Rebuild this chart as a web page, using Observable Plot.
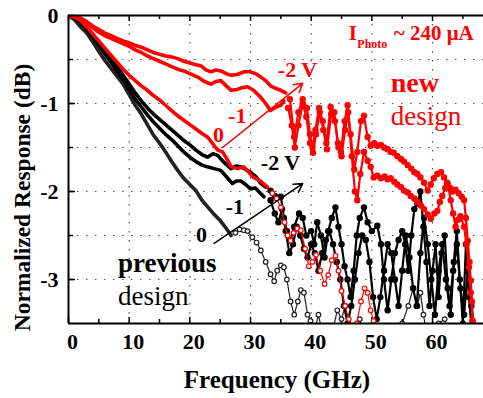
<!DOCTYPE html>
<html><head><meta charset="utf-8">
<script src="https://cdn.jsdelivr.net/npm/d3@7"></script>
<script src="https://cdn.jsdelivr.net/npm/@observablehq/plot@0.6"></script>
<style>
body{margin:0;background:#fff}
#chart{width:483px;height:398px;overflow:hidden}
#chart svg, #chart svg text, #chart svg g{font-family:"Liberation Serif","DejaVu Serif",serif !important}
</style>
</head><body><div id="chart"></div>
<script>
// ---- data (frequency GHz, normalized response dB) ----
const xTicks = [0, 10, 20, 30, 40, 50, 60];
const yTicks = [0, -1, -2, -3];
const xTitle = "Frequency (GHz)";
const yTitle = "Normalized Response (dB)";

const new_m2V = [[0,0],[1,-0.01],[2,-0.03],[3,-0.07],[4,-0.12],[5,-0.16],[6,-0.2],[7,-0.23],[8,-0.26],[9,-0.29],[10,-0.31],[11,-0.34],[12,-0.36],[13,-0.39],[14,-0.42],[15,-0.44],[16,-0.46],[17,-0.47],[18,-0.49],[19,-0.52],[20,-0.54],[21,-0.56],[21.8,-0.57],[22.7,-0.62],[23.5,-0.64],[24.3,-0.62],[25.1,-0.63],[26,-0.66],[26.8,-0.68],[27.8,-0.67],[28.9,-0.64],[30,-0.64],[30.8,-0.66],[31.7,-0.70],[32.5,-0.74],[33.3,-0.80],[34.2,-0.83],[35,-0.85],[35.8,-0.88],[36.5,-0.95],[37.2,-1.38],[37.9,-1.10],[38.6,-0.95],[39.3,-1.05],[39.8,-1.35],[40.2,-1.50],[40.7,-1.30],[41.3,-1.05],[41.9,-1.20],[42.5,-1.45],[43.2,-1.04],[43.8,-1.10],[44.4,-1.45],[44.9,-1.55],[45.5,-1.20],[46,-1.02],[46.5,-1.35],[47.1,-1.75],[47.6,-1.55],[48.2,-1.20],[48.7,-1.14],[49.3,-1.38],[49.8,-1.48],[50.4,-1.45],[50.9,-1.48],[51.5,-1.47],[52,-1.50],[52.6,-1.52],[53.1,-1.55],[53.6,-1.56],[54.2,-1.60],[54.8,-1.63],[55.3,-1.66],[55.9,-1.70],[56.5,-1.74],[57,-1.78],[57.5,-1.80],[58,-1.84],[58.6,-1.90],[59.2,-1.99],[59.7,-1.92],[60.2,-1.85],[60.8,-1.80],[61.4,-1.78],[61.9,-1.84],[62.4,-1.90],[62.9,-1.96],[63.3,-2.00],[63.8,-1.98],[64.3,-2.02],[64.8,-2.06],[65.2,-2.10],[65.5,-2.30],[65.8,-2.56],[66.1,-2.80],[66.3,-3.01],[66.5,-3.25],[66.6,-3.47],[66.8,-3.7]];

const new_m1V = [[0,0],[1,-0.01],[2,-0.04],[3,-0.09],[4,-0.14],[5,-0.19],[6,-0.23],[7,-0.26],[8,-0.29],[9,-0.32],[10,-0.35],[11,-0.39],[12,-0.42],[13,-0.46],[14,-0.49],[15,-0.52],[16,-0.55],[17,-0.58],[18,-0.61],[19,-0.63],[20,-0.66],[21.3,-0.70],[22.4,-0.75],[23.5,-0.78],[24.3,-0.75],[25.1,-0.74],[26,-0.80],[26.8,-0.85],[27.8,-0.84],[28.6,-0.82],[29.5,-0.81],[30.5,-0.85],[31.7,-0.93],[32.5,-1.00],[33.3,-1.08],[34.2,-1.04],[35,-1.02],[35.5,-0.97],[36.2,-1.05],[36.8,-1.25],[37.3,-1.50],[37.9,-1.25],[38.6,-1.00],[39.2,-1.15],[39.8,-1.45],[40.3,-1.56],[40.8,-1.35],[41.4,-1.10],[42,-1.30],[42.6,-1.52],[43.3,-1.12],[43.9,-1.20],[44.5,-1.50],[45,-1.60],[45.6,-1.30],[46.1,-1.10],[46.7,-1.60],[47.2,-2.00],[47.6,-2.10],[48.1,-1.80],[48.7,-1.55],[49.3,-1.65],[49.8,-1.72],[50.3,-1.84],[50.9,-1.82],[51.5,-1.85],[52.1,-1.83],[52.6,-1.86],[53.1,-1.85],[53.7,-1.89],[54.2,-1.92],[54.8,-1.95],[55.3,-1.99],[55.9,-2.01],[56.4,-2.05],[57,-2.08],[57.5,-2.12],[58.1,-2.16],[58.6,-2.20],[59.2,-2.26],[59.7,-2.31],[60.3,-2.25],[60.8,-2.22],[61.2,-2.12],[61.6,-2.05],[62.1,-1.96],[62.5,-1.91],[63,-2.10],[63.4,-2.25],[63.8,-2.40],[64.2,-2.32],[64.6,-2.28],[65.2,-2.40],[65.6,-2.60],[66,-2.86],[66.3,-3.15],[66.6,-3.47],[66.9,-3.7]];

const new_0V = [[0,0],[1,-0.02],[2,-0.06],[3,-0.13],[4,-0.21],[5,-0.29],[6,-0.37],[7,-0.45],[8,-0.53],[9,-0.61],[10,-0.68],[11,-0.74],[12,-0.80],[13,-0.85],[14,-0.91],[15,-0.96],[16,-1.02],[17,-1.08],[18,-1.14],[19,-1.19],[20,-1.24],[21,-1.29],[22,-1.34],[22.9,-1.38],[23.8,-1.46],[24.6,-1.53],[25.4,-1.55],[26.1,-1.63],[26.8,-1.72],[27.9,-1.74],[28.9,-1.72],[29.7,-1.78],[30.5,-1.84],[31.6,-1.88],[32.8,-1.95],[33.6,-2.02],[34.3,-2.08],[35,-2.18],[35.6,-2.35],[36.1,-2.50],[36.6,-2.56],[37.1,-2.47],[37.7,-2.42],[38.3,-2.44],[39,-2.65],[39.6,-2.85],[40.2,-2.80],[40.8,-2.72],[41.5,-2.90],[42.2,-3.05],[42.8,-2.95],[43.4,-2.78],[44,-2.73],[44.5,-2.90],[45,-3.13],[45.6,-3.30],[46.2,-3.45],[46.8,-3.55],[47.5,-3.50],[48.2,-3.25],[48.8,-3.10],[49.3,-3.15],[49.8,-3.35],[50.3,-3.47],[50.8,-3.7]];

const prev_m2V = [[0,0],[1,-0.02],[2,-0.07],[3,-0.14],[4,-0.22],[5,-0.31],[6,-0.40],[7,-0.49],[8,-0.58],[9,-0.68],[10,-0.78],[11,-0.88],[12,-0.97],[13,-1.05],[14,-1.12],[15,-1.18],[16,-1.24],[17,-1.30],[18,-1.36],[19,-1.42],[20,-1.47],[21,-1.53],[22,-1.58],[22.9,-1.61],[23.8,-1.57],[24.6,-1.59],[25.5,-1.66],[26.8,-1.74],[27.6,-1.71],[28.4,-1.72],[29.2,-1.75],[30,-1.78],[31,-1.84],[31.7,-1.91],[32.5,-1.95],[33.3,-1.99],[34,-2.05],[35,-2.06],[35.5,-2.30],[36,-2.45],[36.6,-2.56],[37.2,-2.40],[38,-2.25],[38.6,-2.30],[39.2,-2.50],[40,-2.45],[40.5,-2.60],[41,-2.35],[41.6,-2.50],[42.2,-2.75],[42.8,-2.45],[43.4,-2.30],[44,-2.18],[44.5,-2.40],[45,-2.60],[45.5,-2.85],[46,-3.00],[46.5,-3.20],[47,-2.90],[47.5,-2.50],[48,-2.30],[48.7,-2.18],[49.3,-2.35],[50,-2.45],[50.9,-2.39],[51.5,-2.60],[52,-3.00],[52.6,-3.35],[53.2,-3.00],[53.8,-2.70],[54.4,-2.55],[55,-2.45],[55.5,-2.60],[56,-2.90],[56.5,-2.50],[57,-2.20],[57.5,-2.14],[58,-2.00],[58.5,-2.40],[59,-2.80],[59.5,-3.30],[60,-2.90],[60.5,-2.60],[61,-3.20],[61.5,-2.70],[62,-2.50],[62.5,-3.10],[63,-3.40],[63.5,-2.80],[64,-2.45],[64.5,-3.00],[65,-3.50],[65.5,-2.60],[66,-3.20],[66.5,-3.60]];

const prev_m1V = [[0,0],[1,-0.03],[2,-0.08],[3,-0.16],[4,-0.25],[5,-0.34],[6,-0.44],[7,-0.53],[8,-0.63],[9,-0.73],[10,-0.84],[11,-0.95],[12,-1.04],[13,-1.13],[14,-1.21],[15,-1.28],[16,-1.35],[17,-1.41],[18,-1.48],[19,-1.55],[20,-1.61],[21,-1.66],[22,-1.70],[22.9,-1.72],[24,-1.74],[25.1,-1.76],[26,-1.83],[27,-1.91],[27.7,-1.88],[28.4,-1.88],[29.2,-1.92],[30,-1.97],[30.8,-1.96],[31.5,-2.01],[32.2,-2.06],[33.3,-2.10],[34,-2.25],[34.6,-2.35],[35.2,-2.20],[35.8,-2.45],[36.4,-2.70],[37,-2.60],[37.6,-2.40],[38.2,-2.50],[38.8,-2.65],[39.4,-2.75],[40,-2.60],[40.6,-2.70],[41.2,-2.90],[41.8,-2.70],[42.4,-2.55],[43,-2.45],[43.6,-2.60],[44.2,-2.80],[44.8,-3.00],[45.4,-3.30],[46,-3.50],[46.6,-3.30],[47.2,-3.00],[47.8,-2.70],[48.4,-2.50],[49,-2.55],[49.6,-2.80],[50.2,-3.20],[50.8,-3.45],[51.4,-3.20],[52,-2.90],[52.6,-2.60],[53.2,-2.70],[53.8,-3.00],[54.4,-3.30],[55,-2.90],[55.6,-2.50],[56.2,-2.75],[56.8,-3.10],[57.4,-3.30],[58,-2.70],[58.6,-2.30],[59.2,-2.60],[59.8,-3.00],[60.4,-3.40],[61,-2.90],[61.6,-2.60],[62.2,-3.00],[62.8,-3.30],[63.4,-2.90],[64,-2.60],[64.6,-3.10],[65.2,-3.40],[65.8,-2.90],[66.4,-3.30],[67,-3.60]];

const prev_0V = [[0,0],[1,-0.05],[2,-0.13],[3,-0.20],[4,-0.30],[5,-0.41],[6,-0.51],[7,-0.60],[8,-0.69],[9,-0.78],[10,-0.90],[11,-1.02],[12,-1.12],[13,-1.24],[14,-1.36],[15,-1.45],[16,-1.55],[17,-1.66],[18,-1.76],[19,-1.85],[20,-1.92],[21,-1.99],[22,-2.10],[23,-2.18],[24,-2.26],[25,-2.33],[26,-2.42],[26.8,-2.50],[27.5,-2.47],[28.2,-2.43],[28.9,-2.44],[29.5,-2.45],[30.3,-2.52],[31,-2.58],[31.7,-2.67],[32.5,-2.80],[33.3,-2.94],[33.9,-3.02],[34.4,-2.90],[35,-2.84],[35.5,-2.86],[36,-3.00],[36.6,-3.25],[37.2,-3.40],[37.8,-3.25],[38.3,-3.12],[38.8,-3.15],[39.4,-3.40],[39.9,-3.47],[40.5,-3.60],[41.2,-3.40],[41.8,-3.60],[42.5,-3.70],[43.5,-3.60],[44.3,-3.35],[45,-3.45],[45.6,-3.30],[46.2,-3.60],[47,-3.70],[48,-3.45],[48.6,-3.60],[50,-3.70],[52,-3.80],[54,-3.60],[55,-3.50],[56,-3.30],[56.8,-3.10],[57.5,-3.30],[58,-3.15],[58.5,-3.40],[59,-3.60],[60,-3.70],[61,-3.50],[62,-3.45],[63,-3.70],[64,-3.60]];

// ---- annotations ----
const redLabels = [
  {text: "-2 V", f: 34.5, db: -0.62},
  {text: "-1", f: 26.3, db: -1.14},
  {text: "0", f: 23.8, db: -1.36}
];
const blackLabels = [
  {text: "-2 V", f: 31.7, db: -1.68},
  {text: "-1", f: 25.9, db: -2.18},
  {text: "0", f: 21.0, db: -2.49}
];
const arrows = [
  {f1: 25.4, db1: -1.50, f2: 38.6, db2: -0.77, color: "#ff0000"},
  {f1: 24.0, db1: -2.59, f2: 38.6, db2: -1.91, color: "#000"}
];

const RED = "#ff0000";
const FONT = "Liberation Serif, DejaVu Serif, serif";
const toRows = arr => arr.map(([f, db]) => ({f, db}));

function seriesMarks(arr, color, t, openDots) {
  const rows = toRows(arr);
  const thick = rows.filter(d => d.f <= t);
  const thin = rows.filter(d => d.f >= t);
  return [
    Plot.line(thick, {x: "f", y: "db", stroke: color, strokeWidth: 3.6, strokeLinejoin: "round", clip: true}),
    Plot.line(thin, {x: "f", y: "db", stroke: color, strokeWidth: openDots ? 1.2 : 2.2, clip: true}),
    Plot.dot(thin, {x: "f", y: "db", r: openDots ? 2.3 : 2.6, stroke: color, strokeWidth: 1.2, fill: openDots ? "white" : color, clip: true})
  ];
}

const minorX = d3.range(5, 70, 10);
const gridY = d3.range(-0.5, -3.01, -0.5);
const T = {fontFamily: FONT};

const plot = Plot.plot({
  width: 483, height: 398,
  marginLeft: 68, marginRight: 0, marginTop: 15, marginBottom: 75,
  x: {domain: [0, 68.4]},
  y: {domain: [-3.5, 0]},
  style: {fontFamily: FONT, background: "white", color: "black"},
  marks: [
    Plot.ruleX(xTicks.slice(1), {stroke: "#555", strokeWidth: 1.2, strokeDasharray: "1.5,7.5"}),
    Plot.ruleY(gridY, {stroke: "#555", strokeWidth: 1.2, strokeDasharray: "1.5,7.5"}),
    Plot.ruleX(xTicks, {stroke: "black", strokeWidth: 1.5, insetTop: 302}),
    Plot.ruleX(minorX, {stroke: "black", strokeWidth: 1.5, insetTop: 304}),
    Plot.ruleX(xTicks, {stroke: "black", strokeWidth: 1.5, insetBottom: 302}),
    Plot.ruleX(minorX, {stroke: "black", strokeWidth: 1.5, insetBottom: 304}),
    Plot.ruleY(yTicks, {stroke: "black", strokeWidth: 1.5, insetRight: 408}),
    Plot.ruleY(gridY, {stroke: "black", strokeWidth: 1.5, insetRight: 410}),
    ...seriesMarks(prev_0V, "#222", 27, true),
    ...seriesMarks(prev_m1V, "#000", 33, false),
    ...seriesMarks(prev_m2V, "#000", 33, false),
    ...seriesMarks(new_0V, RED, 33, true),
    ...seriesMarks(new_m1V, RED, 36, false),
    ...seriesMarks(new_m2V, RED, 36, false),
    Plot.ruleX([0], {stroke: "black", strokeWidth: 2}),
    Plot.ruleY([-3.5], {stroke: "black", strokeWidth: 2}),
    Plot.ruleY([0], {stroke: "black", strokeWidth: 2}),
    Plot.arrow(arrows, {x1: "f1", y1: "db1", x2: "f2", y2: "db2", stroke: "color", strokeWidth: 1.6, headLength: 9}),
    Plot.text(redLabels, {...T, x: "f", y: "db", text: "text", fill: RED, fontSize: 22, fontWeight: "bold", textAnchor: "start"}),
    Plot.text(blackLabels, {...T, x: "f", y: "db", text: "text", fill: "black", fontSize: 22, fontWeight: "bold", textAnchor: "start"}),
    Plot.text(["I"], {...T, x: 46.2, y: -0.2, text: d => d, fill: RED, fontSize: 21, fontWeight: "bold", textAnchor: "start"}),
    Plot.text(["Photo"], {...T, x: 47.6, y: -0.33, text: d => d, fill: RED, fontSize: 12, fontWeight: "bold", textAnchor: "start"}),
    Plot.text(["~ 240 μA"], {...T, x: 53.6, y: -0.2, text: d => d, fill: RED, fontSize: 21, fontWeight: "bold", textAnchor: "start"}),
    Plot.text(["new"], {...T, x: 53.1, y: -0.77, text: d => d, fill: RED, fontSize: 28, fontWeight: "bold", textAnchor: "start"}),
    Plot.text(["design"], {...T, x: 53.1, y: -1.15, text: d => d, fill: RED, fontSize: 27, textAnchor: "start"}),
    Plot.text(["previous"], {...T, x: 8.15, y: -2.82, text: d => d, fill: "black", fontSize: 27, fontWeight: "bold", textAnchor: "start"}),
    Plot.text(["design"], {...T, x: 8.15, y: -3.19, text: d => d, fill: "black", fontSize: 27, textAnchor: "start"}),
    Plot.axisX({...T, ticks: xTicks, tickSize: 0, tickPadding: 10, fontSize: 22, fontWeight: "bold", dx: 4, label: null, tickFormat: d => String(d)}),
    Plot.axisY({...T, ticks: yTicks, tickSize: 0, tickPadding: 10, fontSize: 22, fontWeight: "bold", label: null, tickFormat: d => String(d)}),
    Plot.text([xTitle], {...T, frameAnchor: "bottom", textAnchor: "middle", dy: 64, dx: 1, text: d => d, fontSize: 25, fontWeight: "bold", fill: "black"}),
    Plot.text([yTitle], {...T, frameAnchor: "left", textAnchor: "middle", dx: -46, dy: 28, rotate: -90, text: d => d, fontSize: 23.5, fontWeight: "bold", fill: "black"})
  ]
});
document.getElementById("chart").appendChild(plot);
</script>
</body></html>
